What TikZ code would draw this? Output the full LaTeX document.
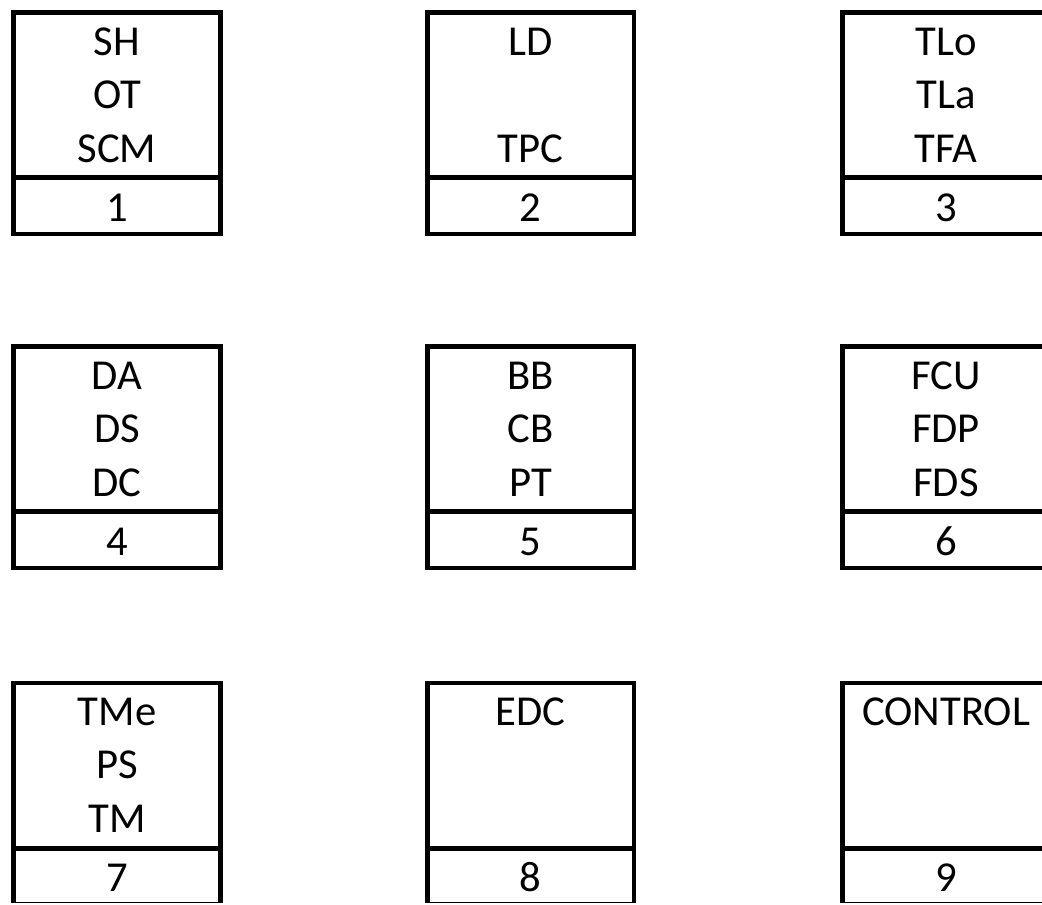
\documentclass[tikz,border=0pt]{standalone}
\usepackage{fontspec}
\setmainfont{Carlito}
\begin{document}
\begin{tikzpicture}[x=0.75pt,y=-0.75pt,
  cell/.style={draw,line width=3.5pt,rectangle,inner sep=0pt,outer sep=0pt,
    minimum width=155pt},
  upper/.style={cell,minimum height=124pt},
  lower/.style={cell,minimum height=42.4pt},
  lbl/.style={font=\fontsize{32}{32}\selectfont,anchor=base,inner sep=0pt}]
\useasboundingbox (0,0) rectangle (1042,904);
\clip (0,0) rectangle (1042,902.5);
% three rows of index cards: a tall upper cell and a short numbered cell
\foreach \cx/\cy/\n in {117/0/1,530.5/0/2,946/0/3,
                        117/334/4,530.5/334/5,946/334/6,
                        117/670.5/7,530.5/670.5/8,946/670.5/9}{
  \node[upper] (u\n) at (\cx,{\cy+95.2}) {};
  \node[lower] (l\n) at (\cx,{\cy+205.8}) {};
  \node[lbl] (num\n) at (\cx,{\cy+221}) {\n};
}
% card contents
\node[lbl] (t1a) at (117,55)  {SH};
\node[lbl] (t1b) at (117,108) {OT};
\node[lbl] (t1c) at (117,162) {SCM};
\node[lbl] (t2a) at (530.5,55)  {LD};
\node[lbl] (t2c) at (530.5,162) {TPC};
\node[lbl] (t3a) at (946,55)  {TLo};
\node[lbl] (t3b) at (946,108) {TLa};
\node[lbl] (t3c) at (946,162) {TFA};
\node[lbl] (t4a) at (117,389) {DA};
\node[lbl] (t4b) at (117,442) {DS};
\node[lbl] (t4c) at (117,496) {DC};
\node[lbl] (t5a) at (530.5,389) {BB};
\node[lbl] (t5b) at (530.5,442) {CB};
\node[lbl] (t5c) at (530.5,496) {PT};
\node[lbl] (t6a) at (946,389) {FCU};
\node[lbl] (t6b) at (946,442) {FDP};
\node[lbl] (t6c) at (946,496) {FDS};
\node[lbl] (t7a) at (117,725) {TMe};
\node[lbl] (t7b) at (117,778) {PS};
\node[lbl] (t7c) at (117,832) {TM};
\node[lbl] (t8a) at (530.5,725) {EDC};
\node[lbl] (t9a) at (946,725) {CONTROL};
\end{tikzpicture}
\end{document}
